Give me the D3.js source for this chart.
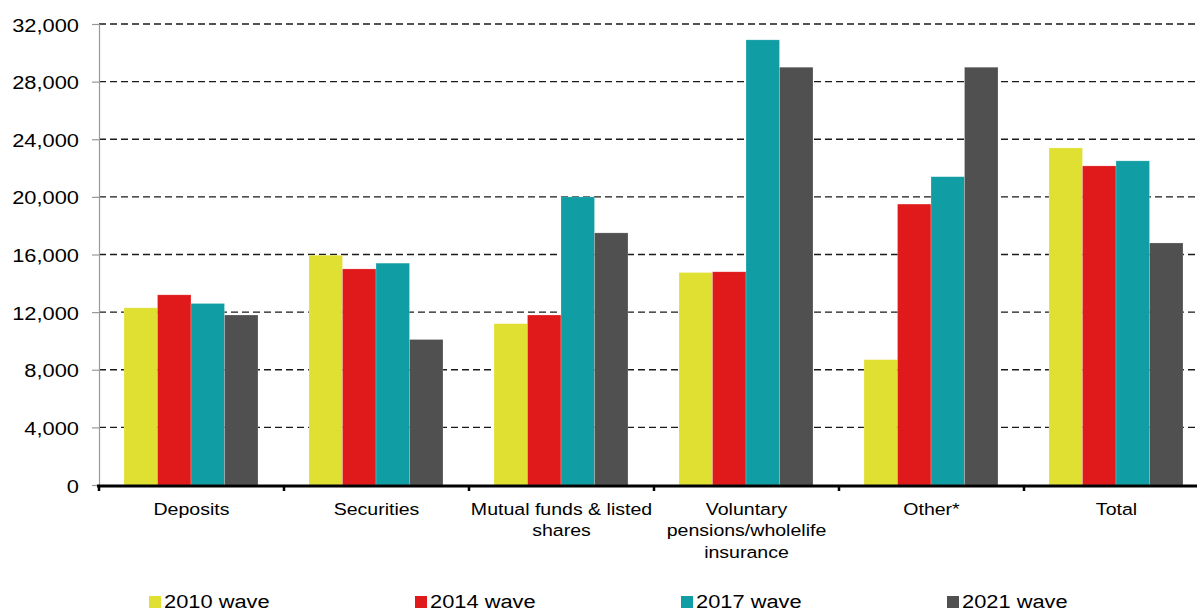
<!DOCTYPE html>
<html>
<head>
<meta charset="utf-8">
<script src="https://cdn.jsdelivr.net/npm/d3@7"></script>
<style>
  html, body { margin: 0; padding: 0; background: #fff; }
  svg { display: block; }
  text { font-family: "Liberation Sans", Arial, sans-serif; fill: #000; }
</style>
</head>
<body>
<svg id="chart" width="1197" height="610"></svg>
<script>
// ---- data ----
const categories = ["Deposits", "Securities", "Mutual funds & listed\nshares", "Voluntary\npensions/wholelife\ninsurance", "Other*", "Total"];
const seriesNames = ["2010 wave", "2014 wave", "2017 wave", "2021 wave"];
const wave2010 = [12300, 15950, 11200, 14750, 8700, 23400];
const wave2014 = [13200, 15000, 11800, 14800, 19500, 22150];
const wave2017 = [12600, 15400, 20000, 30900, 21400, 22500];
const wave2021 = [11800, 10100, 17500, 29000, 29000, 16800];
const yTicks = [0, 4000, 8000, 12000, 16000, 20000, 24000, 28000, 32000];
const colors = ["#e0e033", "#e01a1a", "#109da3", "#505050"];

const seriesValues = [wave2010, wave2014, wave2017, wave2021];
const stretch = 1.15;

const svg = d3.select("#chart");
const plotLeft = 99, plotBottom = 485, plotTop = 24;

const x = d3.scaleBand().domain(categories).range([plotLeft, plotLeft + 6 * 185]).padding(0);
const xInner = d3.scaleBand().domain(seriesNames).range([25, 159]).padding(0);
const y = d3.scaleLinear().domain([0, 32000]).range([plotBottom, plotTop]);

// gridlines
svg.append("g").selectAll("line").data(yTicks.filter(d => d > 0)).join("line")
  .attr("x1", plotLeft).attr("x2", 1197)
  .attr("y1", d => y(d)).attr("y2", d => y(d))
  .attr("stroke", "#1a1a1a").attr("stroke-width", 1.3)
  .attr("stroke-dasharray", "7,4");

// bars
const groups = svg.append("g").selectAll("g").data(categories).join("g")
  .attr("transform", d => `translate(${x(d)},0)`);
groups.selectAll("rect").data((c, ci) => seriesNames.map((s, si) => ({ s, si, v: seriesValues[si][ci] })))
  .join("rect")
  .attr("x", d => xInner(d.s))
  .attr("width", xInner.bandwidth())
  .attr("y", d => y(d.v))
  .attr("height", d => plotBottom - y(d.v))
  .attr("fill", d => colors[d.si])
  .attr("stroke", "rgba(255,255,255,0.35)")
  .attr("stroke-width", 0.6);

// y axis
const yAxis = svg.append("g").attr("transform", `translate(${plotLeft},0)`)
  .call(d3.axisLeft(y).tickValues(yTicks).tickSize(7).tickFormat(d3.format(",")));
yAxis.select(".domain").attr("stroke", "#999").attr("stroke-width", 1.2);
yAxis.selectAll(".tick line").attr("stroke", "#999").attr("stroke-width", 1.2);
yAxis.selectAll(".tick text")
  .attr("x", null).attr("dy", null)
  .style("font-size", "19px")
  .attr("text-anchor", "end")
  .attr("transform", `translate(-20,7) scale(${stretch},1)`);

// x axis
const xAxisG = svg.append("g");
xAxisG.append("line").attr("x1", plotLeft - 2).attr("x2", 1197)
  .attr("y1", plotBottom + 1).attr("y2", plotBottom + 1)
  .attr("stroke", "#000").attr("stroke-width", 3);
const bounds = categories.map(c => x(c));
xAxisG.selectAll("line.tk").data(bounds).join("line").attr("class", "tk")
  .attr("x1", d => d).attr("x2", d => d)
  .attr("y1", plotBottom).attr("y2", plotBottom + 6)
  .attr("stroke", "#000").attr("stroke-width", 2.5);

// category labels
svg.append("g").selectAll("text").data(categories).join("text")
  .attr("transform", d => `translate(${x(d) + x.bandwidth() / 2},515) scale(${stretch},1)`)
  .attr("text-anchor", "middle")
  .style("font-size", "17px")
  .selectAll("tspan").data(d => d.split("\n")).join("tspan")
  .attr("x", 0).attr("y", (d, i) => i * 21.5)
  .text(d => d);

// legend
const leg = svg.append("g").selectAll("g").data(seriesNames).join("g")
  .attr("transform", (d, i) => `translate(${149 + i * 266},0)`);
leg.append("rect").attr("x", 0).attr("y", 596).attr("width", 12).attr("height", 12)
  .attr("fill", (d, i) => colors[i]);
leg.append("text")
  .attr("transform", `translate(15,608) scale(${stretch},1)`)
  .style("font-size", "19px")
  .text(d => d);
</script>
</body>
</html>
